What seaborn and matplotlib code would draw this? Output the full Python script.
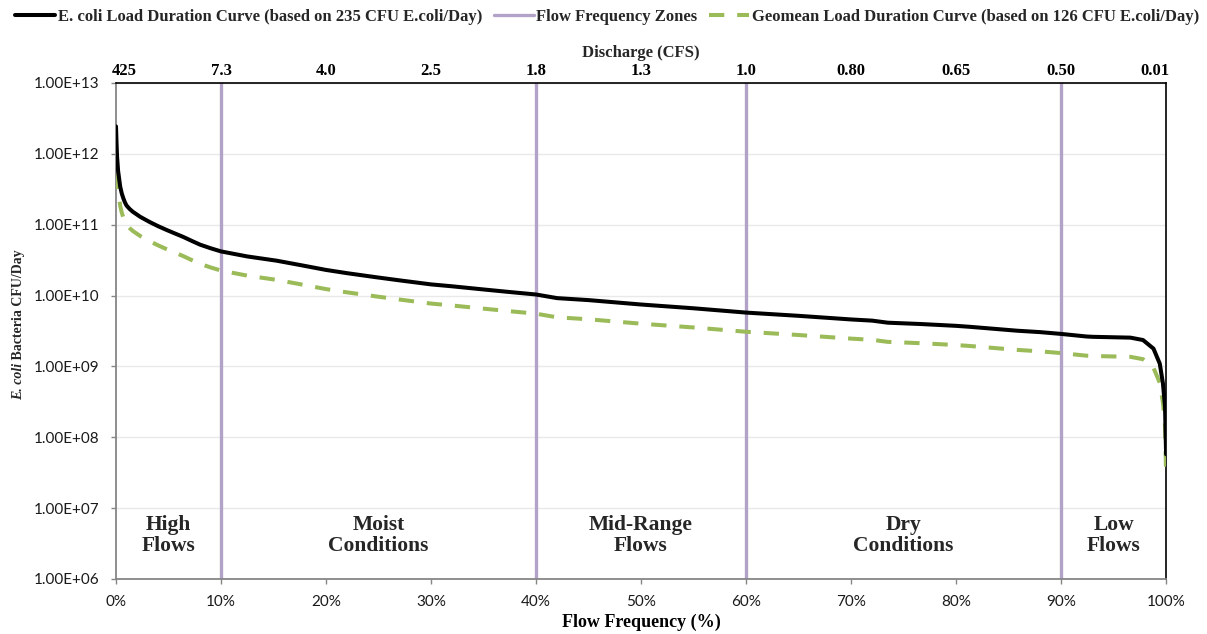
import numpy as np
import pandas as pd
import matplotlib
matplotlib.use("Agg")
import matplotlib.pyplot as plt
import matplotlib.transforms as mtransforms
from matplotlib.ticker import FuncFormatter, NullLocator
import seaborn as sns

# Flow duration curve: percent of time a discharge is equalled or exceeded
flow_pct = [0, 0.05, 0.1, 0.2, 0.4, 0.55, 0.7, 0.85, 1.0, 1.3, 1.6, 2.3, 3.2, 4.0,
            4.8, 5.6, 6.4, 7.2, 8.0, 9.0, 10.0, 12.5, 15.3, 17.5, 20.0, 22.0,
            24.8, 27.0, 30.0, 32.0, 35.0, 37.5, 40.0, 42.0, 45.0, 50.0, 55.0,
            60.0, 65.0, 70.0, 72.0, 73.5, 76.6, 80.0, 81.3, 85.8, 88.0, 90.0,
            92.4, 93.0, 96.6, 97.8, 98.8, 99.4, 99.7, 99.9, 100.0]
discharge_cfs = [425, 250, 160, 100, 60, 48, 41, 36, 32.5, 29, 26.5, 22.5, 19, 16.6,
                 14.7, 13.1, 11.7, 10.3, 9.1, 8.1, 7.3, 6.2, 5.4, 4.7, 4.0, 3.6,
                 3.15, 2.85, 2.5, 2.35, 2.12, 1.95, 1.8, 1.6, 1.5, 1.3, 1.15,
                 1.0, 0.9, 0.80, 0.77, 0.72, 0.69, 0.65, 0.63, 0.555, 0.53, 0.50,
                 0.46, 0.455, 0.443, 0.41, 0.31, 0.19, 0.10, 0.047, 0.01]

# Water quality criteria (CFU E. coli per 100 mL)
criterion_single = 235
criterion_geomean = 126
# 1 cfs expressed as 100-mL volumes per day
cfs_to_100ml_per_day = 28.3168 * 10 * 86400

# Flow regime zones
zone_edges = [10, 40, 60, 90]
zone_centers = [5, 25, 50, 75, 95]
zone_names = ["High\nFlows", "Moist\nConditions", "Mid-Range\nFlows",
              "Dry\nConditions", "Low\nFlows"]

# Axis tick labels
pct_ticks = [0, 10, 20, 30, 40, 50, 60, 70, 80, 90, 100]
pct_labels = ["0%", "10%", "20%", "30%", "40%", "50%", "60%", "70%", "80%", "90%", "100%"]
discharge_ticks = ["425", "7.3", "4.0", "2.5", "1.8", "1.3", "1.0", "0.80", "0.65", "0.50", "0.01"]

label_single = "E. coli Load Duration Curve (based on 235 CFU E.coli/Day)"
label_zones = "Flow Frequency Zones"
label_geomean = "Geomean Load Duration Curve (based on 126 CFU E.coli/Day)"

df = pd.DataFrame({"pct": flow_pct, "q": discharge_cfs})
df["single"] = df["q"] * criterion_single * cfs_to_100ml_per_day
df["geomean"] = df["q"] * criterion_geomean * cfs_to_100ml_per_day

sns.set_theme(style="white")
plt.rcParams["font.family"] = ["Lato", "DejaVu Sans"]

SERIF = "Liberation Serif"
BLACK = "#000000"
GREEN = "#9bbb59"
PURPLE = "#b3a2c7"
AXIS_GRAY = "#868686"

fig = plt.figure(figsize=(12.07, 6.34), dpi=100)
ax = fig.add_axes([0.0961, 0.0868, 0.8700, 0.7823])

for e in zone_edges:
    ax.axvline(e, color=PURPLE, lw=2.4, zorder=2,
               label=label_zones if e == zone_edges[0] else None)

sns.lineplot(data=df, x="pct", y="single", ax=ax, color=BLACK, lw=2.9,
             estimator=None, label=label_single, zorder=4)
sns.lineplot(data=df, x="pct", y="geomean", ax=ax, color=GREEN, lw=2.9,
             estimator=None, label=label_geomean, zorder=3)
ax.lines[-1].set_dashes((3.8, 3.2))

ax.set_yscale("log")
ax.set_ylim(1e6, 1e13)
ax.set_xlim(0, 100)
ax.yaxis.set_minor_locator(NullLocator())
ax.yaxis.set_major_formatter(FuncFormatter(lambda v, p: f"{v:.2E}"))
ax.set_xticks(pct_ticks)
ax.set_xticklabels(pct_labels)
ax.yaxis.grid(True, color="#e9e9e9", lw=1.0)
ax.set_axisbelow(True)

ax.tick_params(axis="both", left=True, bottom=True, direction="out", length=3.6,
               width=1, color=AXIS_GRAY, labelsize=11, labelcolor="#1a1a1a", pad=8)
for s in ("left", "bottom"):
    ax.spines[s].set_color(AXIS_GRAY)
    ax.spines[s].set_linewidth(1.3)
ax.spines["right"].set_color(BLACK)
ax.spines["right"].set_linewidth(1.2)
ax.spines["top"].set_visible(False)

ax.set_xlabel("Flow Frequency (%)", fontfamily=SERIF, fontweight="bold",
              fontsize=13, color=BLACK, labelpad=3)
ax.set_ylabel("")

# Rotated y label with italic species name
t1 = ax.text(-0.093, 0.36, "E. coli", transform=ax.transAxes, rotation=90,
             ha="center", va="bottom", fontfamily=SERIF, fontweight="bold",
             fontstyle="italic", fontsize=10)
ax.annotate(" Bacteria CFU/Day", xy=(0.5, 1.0), xycoords=t1, rotation=90,
            ha="center", va="bottom", fontfamily=SERIF, fontweight="bold",
            fontsize=10)

# Secondary axis with discharge values
ax2 = ax.twiny()
ax2.set_xlim(0, 100)
ax2.set_xticks(pct_ticks)
ax2.set_xticklabels(discharge_ticks, fontfamily=SERIF, fontweight="bold", fontsize=12)
ax2.tick_params(axis="x", top=True, length=0, pad=3, labelcolor=BLACK)
for s in ("left", "right", "bottom"):
    ax2.spines[s].set_visible(False)
ax2.spines["top"].set_color(BLACK)
ax2.spines["top"].set_linewidth(1.2)
ax2.set_xlabel("Discharge (CFS)", fontfamily=SERIF, fontweight="bold",
               fontsize=12, labelpad=4)
tl = ax2.get_xticklabels()
tl[0].set_transform(tl[0].get_transform() + mtransforms.ScaledTranslation(8 / 100, 0, fig.dpi_scale_trans))
tl[-1].set_transform(tl[-1].get_transform() + mtransforms.ScaledTranslation(-11 / 100, 0, fig.dpi_scale_trans))

# Flow regime names
for xc, name in zip(zone_centers, zone_names):
    ax.text(xc, 0.087, name, transform=ax.get_xaxis_transform(), ha="center",
            va="center", fontfamily=SERIF, fontweight="bold", fontsize=15.5,
            linespacing=1.07)

handles, labels = ax.get_legend_handles_labels()
order = [labels.index(label_single), labels.index(label_zones), labels.index(label_geomean)]
ax.get_legend().remove()
fig.legend([handles[i] for i in order], [labels[i] for i in order],
           loc="upper center", bbox_to_anchor=(0.503, 1.01), ncol=3, frameon=False,
           prop={"family": SERIF, "weight": "bold", "size": 12},
           handlelength=2.4, handletextpad=0.15, columnspacing=0.7)

fig.savefig("out.png", dpi=100)
